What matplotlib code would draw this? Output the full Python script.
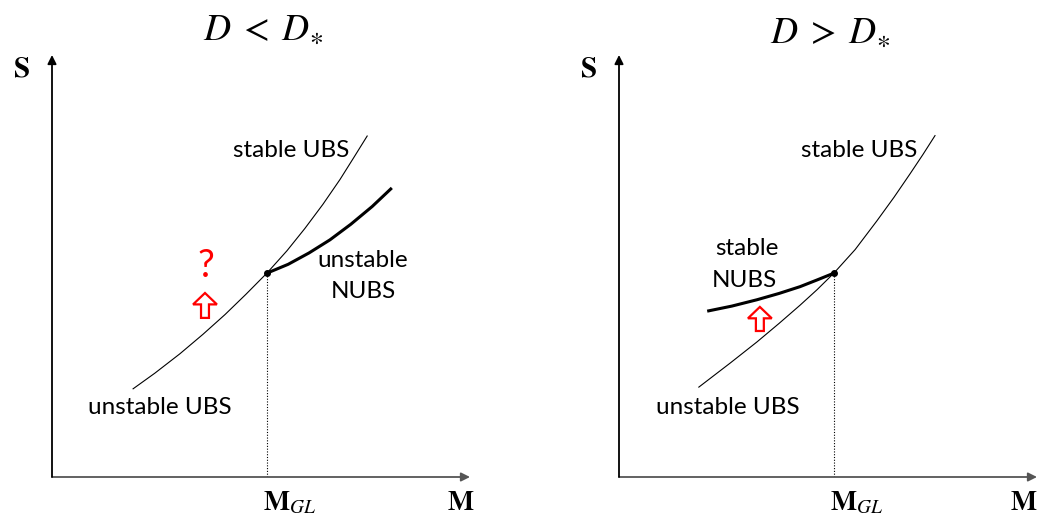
import matplotlib.pyplot as plt
import numpy as np

plt.rcParams['mathtext.fontset'] = 'stix'

# left panel, D < D*
ubs_m_left = [1.94, 2.46, 3.06, 3.61, 4.14, 4.64, 5.14, 5.62, 6.05, 6.48, 6.89, 7.22, 7.54]
ubs_s_left = [2.09, 2.46, 2.92, 3.38, 3.85, 4.33, 4.83, 5.36, 5.89, 6.46, 7.05, 7.57, 8.08]
nubs_m_left = [5.14, 5.65, 6.15, 6.65, 7.15, 7.66, 8.13]
nubs_s_left = [4.83, 5.04, 5.31, 5.62, 5.99, 6.41, 6.85]

# right panel, D > D*
ubs_m_right = [1.91, 2.66, 3.30, 3.83, 4.33, 4.74, 5.14, 5.65, 6.17, 6.58, 6.96, 7.27, 7.56]
ubs_s_right = [2.13, 2.70, 3.20, 3.64, 4.07, 4.44, 4.83, 5.39, 6.07, 6.63, 7.18, 7.64, 8.09]
nubs_m_right = [2.11, 2.70, 3.30, 3.83, 4.33, 4.74, 5.14]
nubs_s_right = [3.93, 4.05, 4.20, 4.35, 4.51, 4.67, 4.83]

m_gl = 5.14
s_gl = 4.83

W, H = 1038, 515
fig = plt.figure(figsize=(W / 100, H / 100), dpi=100)


def makePanel(left_px, title, title_y, m_x):
    ax = fig.add_axes([left_px / W, (H - 477) / H, 418 / W, 422 / H])
    ax.set_xlim(0, 10)
    ax.set_ylim(0, 10)
    ax.axis('off')
    ax.annotate('', xy=(10, 0), xytext=(0, 0), annotation_clip=False,
                arrowprops=dict(arrowstyle='-|>', color='#555555', lw=1.3,
                                mutation_scale=13, shrinkA=0, shrinkB=0))
    ax.annotate('', xy=(0, 10), xytext=(0, 0), annotation_clip=False,
                arrowprops=dict(arrowstyle='-|>', color='black', lw=1.3,
                                mutation_scale=13, shrinkA=0, shrinkB=0))
    ax.text(5.05, title_y, title, fontsize=27, ha='center', va='baseline', clip_on=False)
    ax.text(-0.93, 9.48, r'$\mathbf{S}$', fontsize=21, ha='left', va='baseline', clip_on=False)
    ax.text(m_x, -0.78, r'$\mathbf{M}$', fontsize=20, ha='left', va='baseline', clip_on=False)
    ax.text(m_gl - 0.1, -0.78, r'$\mathbf{M}_{GL}$', fontsize=20, ha='left', va='baseline',
            clip_on=False)
    ax.plot([m_gl, m_gl], [0, s_gl], color='black', lw=0.8, linestyle=(0, (1, 1.5)))
    return ax


def redArrow(ax, x, y0, y1):
    ax.arrow(x, y0, 0, y1 - y0, width=0.19, head_width=0.57, head_length=0.27,
             length_includes_head=True, fc='white', ec='red', lw=1.6)


txt = dict(family='Lato', fontsize=17.5, ha='center', va='baseline')

# left
ax1 = makePanel(52, r'$D\;<\;D_{\ast}$', 10.36, 9.46)
ax1.plot(ubs_m_left, ubs_s_left, color='black', lw=0.8)
ax1.plot(nubs_m_left, nubs_s_left, color='black', lw=2.2, solid_capstyle='butt')
ax1.plot([m_gl], [s_gl], 'o', color='black', ms=4)
ax1.text(5.72, 7.58, 'stable UBS', **txt)
ax1.text(7.44, 4.98, 'unstable', **txt)
ax1.text(7.44, 4.24, 'NUBS', **txt)
ax1.text(2.58, 1.49, 'unstable UBS', **txt)
ax1.text(3.68, 4.74, '?', family='Lato', fontsize=27, color='red', ha='center', va='baseline')
redArrow(ax1, 3.66, 3.77, 4.36)

# right
ax2 = makePanel(619, r'$D\;>\;D_{\ast}$', 10.28, 9.36)
ax2.plot(ubs_m_right, ubs_s_right, color='black', lw=0.8)
ax2.plot(nubs_m_right, nubs_s_right, color='black', lw=2.2, solid_capstyle='butt')
ax2.plot([m_gl], [s_gl], 'o', color='black', ms=4)
ax2.text(5.74, 7.58, 'stable UBS', **txt)
ax2.text(3.06, 5.26, 'stable', **txt)
ax2.text(3.01, 4.50, 'NUBS', **txt)
ax2.text(2.61, 1.49, 'unstable UBS', **txt)
redArrow(ax2, 3.37, 3.46, 4.03)

fig.savefig('out.png', dpi=100)
